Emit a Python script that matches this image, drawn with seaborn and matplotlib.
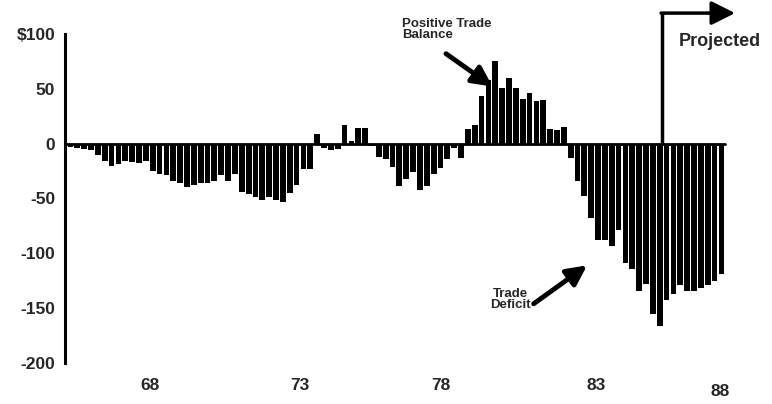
import pandas as pd
import matplotlib.pyplot as plt
import matplotlib.transforms as mtransforms
import seaborn as sns

# Quarterly trade balance, billions of dollars
years = [str(y) for y in range(65, 89)]
quarters = [f"{y}Q{q}" for y in years for q in range(1, 5)]

balance = [
    -3, -4, -5, -6, -10, -16, -20, -19, -16, -17, -18, -16, -25, -28, -29, -34,
    -36, -40, -38, -36, -36, -34, -29, -34, -28, -44, -46, -49, -51, -49, -51, -53,
    -45, -38, -23, -23, 9, -4, -6, -5, 17, 2, 14, 14, -2, -12, -14, -21,
    -39, -32, -26, -42, -39, -28, -22, -14, -4, -13,
    13, 17, 43, 58, 75, 51, 60, 51, 41, 46, 39, 40, 13, 12, 15,
    -13, -34, -48, -68, -88, -88, -93, -79, -109, -114, -134, -128, -155, -166,
    -143, -137, -129, -134, -134, -132, -129, -125, -119,
]
quarters = quarters[:len(balance)]

year_labels = ["68", "73", "78", "83", "88"]
year_label_pos = [11.6, 33.5, 54.0, 76.7, 94.8]
y_ticks = [100, 50, 0, -50, -100, -150, -200]
y_tick_labels = ["$100", "50", "0", "-50", "-100", "-150", "-200"]
projected_start = 86.4

df = pd.DataFrame({"quarter": quarters, "balance": balance})

sns.set_style("white")
plt.rcParams["font.family"] = ["Liberation Sans", "DejaVu Sans"]

fig = plt.figure(figsize=(7.72, 4.04), dpi=100)
ax = fig.add_axes([0.0842, 0.1015, 0.868, 0.8145])

sns.barplot(data=df, x="quarter", y="balance", color="black",
            width=0.84, saturation=1, linewidth=0, ax=ax)

ax.set_xlim(-0.8, 97.0)
ax.set_ylim(-200, 100)
ax.axhline(0, color="black", lw=2, xmax=0.985)

# axes styling
for side in ["top", "right", "bottom"]:
    ax.spines[side].set_visible(False)
ax.spines["left"].set_linewidth(2.2)
ax.spines["left"].set_color("black")

ax.set_yticks(y_ticks)
ax.set_yticklabels(y_tick_labels, fontsize=12.5, fontweight="bold")
ax.tick_params(axis="y", direction="inout", length=8, width=2, pad=3)

ax.set_xticks(year_label_pos)
ax.set_xticklabels(year_labels, fontsize=12.5, fontweight="bold")
ax.tick_params(axis="x", length=0, pad=11)
# the last label sits a little lower in the original
last = ax.get_xticklabels()[-1]
last.set_transform(last.get_transform() +
                   mtransforms.ScaledTranslation(0, -4 / 72, fig.dpi_scale_trans))

ax.set_xlabel("")
ax.set_ylabel("")

# annotations
arrow_style = dict(arrowstyle="-|>", color="black", lw=3.5,
                   mutation_scale=30, shrinkA=0, shrinkB=0)

ax.text(48.4, 104, "Positive Trade\nBalance", fontsize=9.5, fontweight="bold",
        ha="left", va="center", linespacing=0.95, clip_on=False)
ax.annotate("", xy=(61.6, 52), xytext=(54.8, 82), annotation_clip=False,
            arrowprops=arrow_style)

ax.text(64.2, -142, "Trade\nDeficit", fontsize=9.5, fontweight="bold",
        ha="center", va="center", linespacing=0.95, clip_on=False)
ax.annotate("", xy=(75.4, -111), xytext=(67.6, -146), annotation_clip=False,
            arrowprops=arrow_style)

ax.plot([projected_start, projected_start], [0, 119], color="black", lw=2.5,
        clip_on=False, solid_capstyle="butt")
ax.annotate("", xy=(97.0, 119), xytext=(projected_start - 0.2, 119),
            annotation_clip=False,
            arrowprops=dict(arrowstyle="-|>", color="black", lw=2.5,
                            mutation_scale=36, shrinkA=0, shrinkB=0))
ax.text(88.8, 93, "Projected", fontsize=13, fontweight="bold",
        ha="left", va="center", clip_on=False)

plt.savefig("out.png", dpi=100)
